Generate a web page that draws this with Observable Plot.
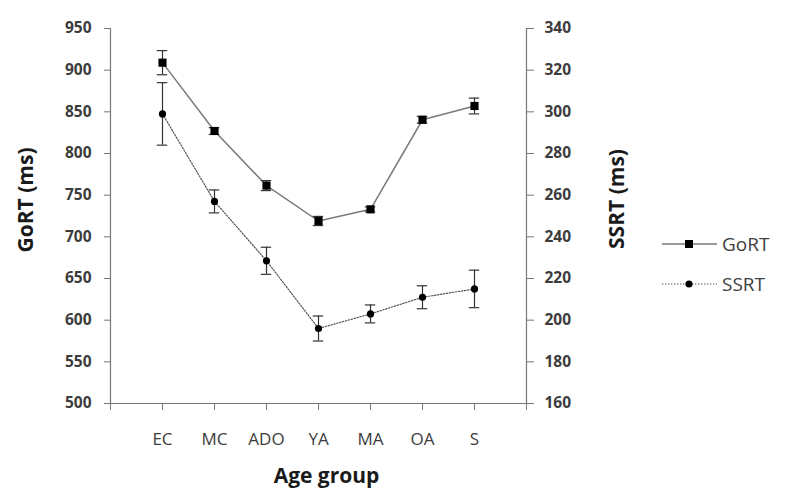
<!DOCTYPE html>
<html>
<head>
<meta charset="utf-8">
<script src="https://cdn.jsdelivr.net/npm/d3@7"></script>
<script src="https://cdn.jsdelivr.net/npm/@observablehq/plot@0.6"></script>
<style>
  html, body { margin: 0; padding: 0; background: #fff; }
  #wrap { position: relative; width: 800px; height: 499px; font-family: "Open Sans", sans-serif; }
  .legend { position: absolute; left: 660px; display: flex; align-items: center; color: #404040; font-size: 19px; }
  .legend svg { margin-right: 4px; }
</style>
</head>
<body>
<div id="wrap"></div>
<script>
// Age groups along the x axis
const groups = ["EC", "MC", "ADO", "YA", "MA", "OA", "S"];

// Go reaction time (ms), mean and error
const goRT    = [909, 827, 761.5, 719, 733, 840.5, 857];
const goRTErr = [14.5, 4, 6, 5.5, 3, 4, 9.5];

// Stop-signal reaction time (ms), mean and error
const ssrt    = [299, 257, 228.5, 196, 203, 211, 215];
const ssrtErr = [15, 5.5, 6.5, 6, 4.3, 5.5, 9];

// Axis ranges and ticks
const goDomain   = [500, 950];
const ssrtDomain = [160, 340];
const goTicks    = d3.range(500, 951, 50);
const ssrtTicks  = d3.range(160, 341, 20);

// SSRT is drawn against the right axis: map it onto the left (GoRT) scale
const k = (goDomain[1] - goDomain[0]) / (ssrtDomain[1] - ssrtDomain[0]);
const toGo = v => goDomain[0] + (v - ssrtDomain[0]) * k;
const fromGo = g => ssrtDomain[0] + (g - goDomain[0]) / k;

const goData = groups.map((g, i) => ({pos: i + 1, v: goRT[i], lo: goRT[i] - goRTErr[i], hi: goRT[i] + goRTErr[i]}));
const ssData = groups.map((g, i) => ({pos: i + 1, v: toGo(ssrt[i]), lo: toGo(ssrt[i] - ssrtErr[i]), hi: toGo(ssrt[i] + ssrtErr[i])}));

const cap = 0.1;   // half width of error-bar caps, in x units
const lineColor = "#7a7a7a";
const dotLineColor = "#555";
const dotDash = "1.4,1.6";
const barColor = "#333";
const axisColor = "#777";
const textColor = "#3c3c3c";

function errorBars(data) {
  return [
    Plot.ruleX(data, {x: "pos", y1: "lo", y2: "hi", stroke: barColor, strokeWidth: 1.2}),
    Plot.ruleY(data, {y: "lo", x1: d => d.pos - cap, x2: d => d.pos + cap, stroke: barColor, strokeWidth: 1.2}),
    Plot.ruleY(data, {y: "hi", x1: d => d.pos - cap, x2: d => d.pos + cap, stroke: barColor, strokeWidth: 1.2})
  ];
}

const chart = Plot.plot({
  width: 800,
  height: 499,
  marginLeft: 110,
  marginRight: 274,
  marginTop: 28,
  marginBottom: 96,
  style: {fontFamily: "Open Sans, sans-serif", background: "white"},
  x: {domain: [0, groups.length + 1], axis: null},
  y: {domain: goDomain, axis: null},
  marks: [
    // axis lines
    Plot.ruleX([0, groups.length + 1], {stroke: axisColor, strokeWidth: 1.2}),
    Plot.ruleY([goDomain[0]], {stroke: axisColor, strokeWidth: 1.2}),

    // left axis (GoRT)
    Plot.axisY({anchor: "left", ticks: goTicks, tickSize: 6, tickPadding: 13, fontSize: 15.5, fontWeight: 700,
      color: textColor, stroke: axisColor, label: null}),
    // right axis (SSRT)
    Plot.axisY({anchor: "right", ticks: ssrtTicks.map(toGo), tickFormat: g => Math.round(fromGo(g)),
      tickSize: 7, tickPadding: 11, fontSize: 15.5, fontWeight: 700, color: textColor, stroke: axisColor, label: null}),
    // bottom axis (age groups)
    Plot.axisX({anchor: "bottom", ticks: d3.range(0, groups.length + 2), tickFormat: i => groups[i - 1] ?? "",
      tickSize: 7, tickPadding: 22, fontSize: 17, color: textColor, stroke: axisColor, label: null}),

    // axis titles
    Plot.text(["GoRT (ms)"], {frameAnchor: "left", textAnchor: "middle", lineAnchor: "middle", dx: -84, dy: -16, rotate: -90, fontSize: 21, fontWeight: 700, fill: "#1a1a1a"}),
    Plot.text(["SSRT (ms)"], {frameAnchor: "right", textAnchor: "middle", lineAnchor: "middle", dx: 91, dy: -17, rotate: -90, fontSize: 21, fontWeight: 700, fill: "#1a1a1a"}),
    Plot.text(["Age group"], {frameAnchor: "bottom", textAnchor: "middle", lineAnchor: "middle", dx: 8, dy: 73, fontSize: 21, fontWeight: 700, fill: "#1a1a1a"}),

    // series lines
    Plot.line(goData, {x: "pos", y: "v", stroke: lineColor, strokeWidth: 1.5}),
    Plot.line(ssData, {x: "pos", y: "v", stroke: dotLineColor, strokeWidth: 1.2, strokeDasharray: dotDash}),

    // error bars
    ...errorBars(goData),
    ...errorBars(ssData),

    // markers
    Plot.dot(goData, {x: "pos", y: "v", symbol: "square", r: 4.6, fill: "#000", stroke: "none"}),
    Plot.dot(ssData, {x: "pos", y: "v", r: 3.6, fill: "#000", stroke: "none"})
  ]
});

const wrap = document.getElementById("wrap");
wrap.appendChild(chart);

// legend
const legendItems = [
  {name: "GoRT", top: 244, color: lineColor, width: 1.5, dash: null, marker: "square"},
  {name: "SSRT", top: 284, color: dotLineColor, width: 1.2, dash: dotDash, marker: "circle"}
];
for (const item of legendItems) {
  const div = document.createElement("div");
  div.className = "legend";
  div.style.top = (item.top - 14) + "px";
  div.style.height = "28px";
  const m = item.marker === "square"
    ? `<rect x="25" y="10" width="8" height="8" fill="#000"/>`
    : `<circle cx="29" cy="14" r="3.6" fill="#000"/>`;
  div.innerHTML = `<svg width="58" height="28"><line x1="2" x2="57" y1="14" y2="14" stroke="${item.color}" stroke-width="${item.width}" ${item.dash ? `stroke-dasharray="${item.dash}"` : ""}/>${m}</svg><span>${item.name}</span>`;
  wrap.appendChild(div);
}
</script>
</body>
</html>
